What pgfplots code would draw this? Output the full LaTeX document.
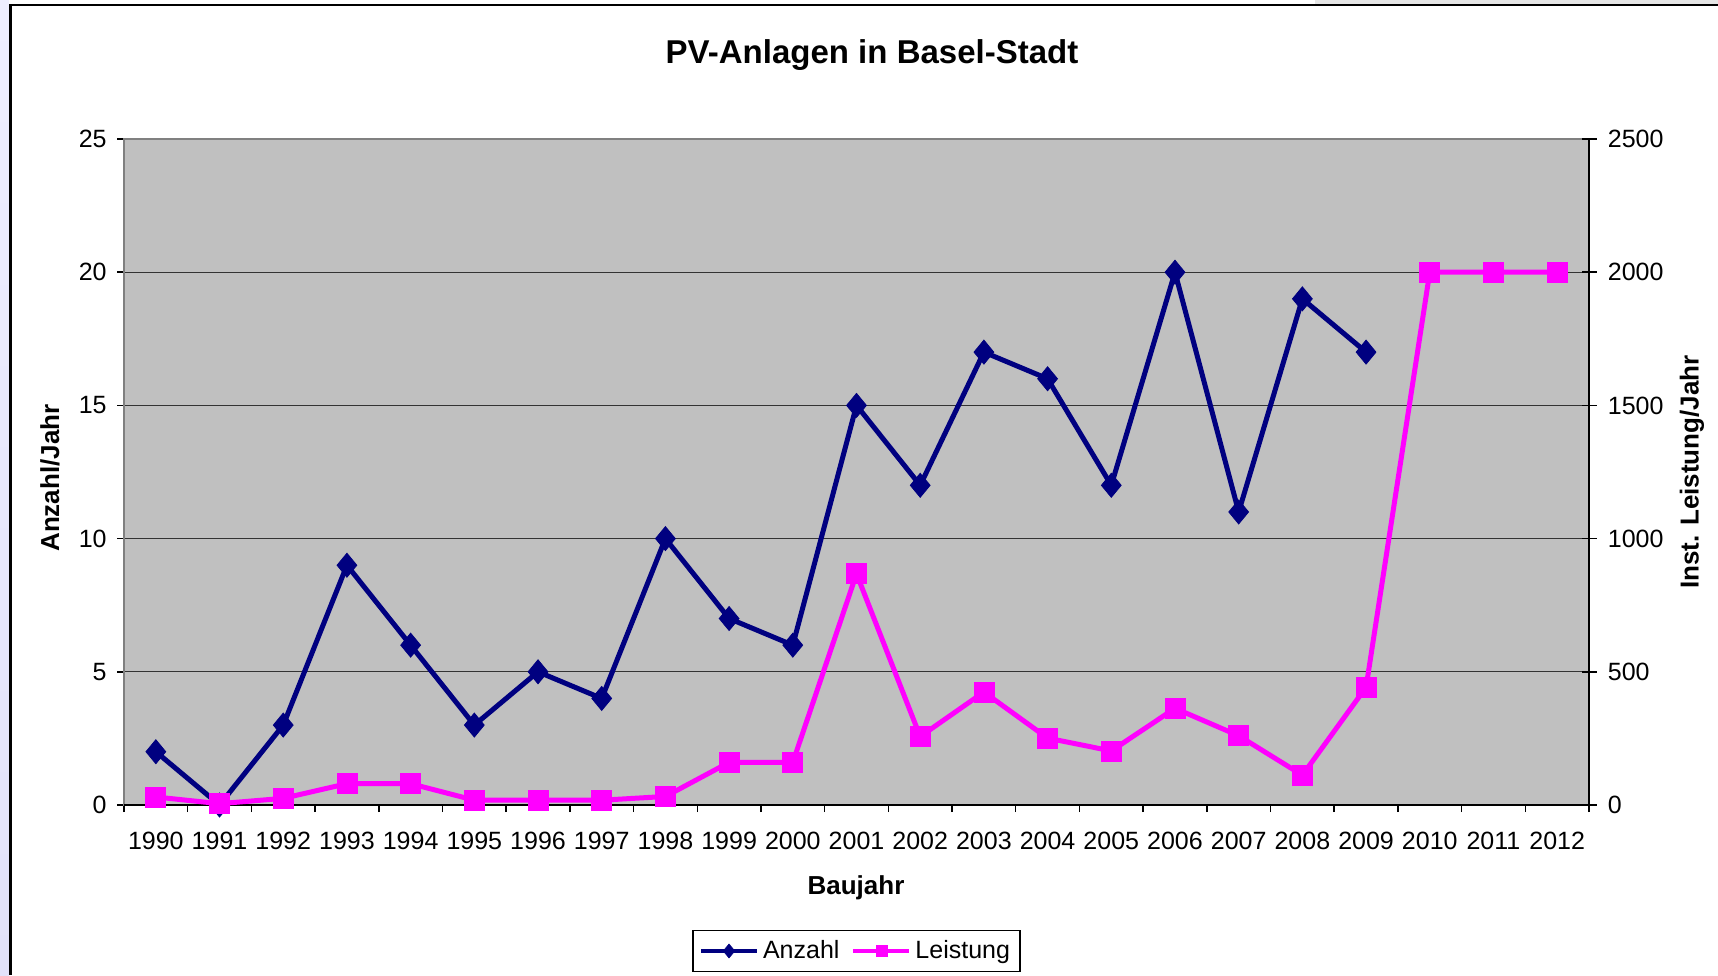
\documentclass[border=0pt]{standalone}
\usepackage{fontspec}
\setmainfont{Liberation Sans}
\usepackage{pgfplots}
\pgfplotsset{compat=1.18}
\definecolor{plotgray}{HTML}{C0C0C0}
\definecolor{navyblue}{HTML}{000080}
\definecolor{magentap}{HTML}{FF00FF}
\definecolor{framegray}{HTML}{808080}
\definecolor{stripA}{HTML}{EEEEFF}
\definecolor{stripB}{HTML}{CDCDF8}
\definecolor{stripC}{HTML}{E2E2FA}
\newcommand{\ticksize}{\fontsize{12.5}{15}\selectfont}
\newcommand{\labsize}{\fontsize{13}{15.6}\selectfont\bfseries}
\begin{document}
\begin{tikzpicture}
\begin{scope}[x=0.5pt,y=0.5pt]
\path[use as bounding box] (0,0) rectangle (1718,975);
\shade[top color=stripA, middle color=stripB, bottom color=stripC] (0,0) rectangle (9,975);
\fill[black!10] (1315,971) rectangle (1718,975);
\draw[black, line width=1.1pt] (10.5,0) -- (10.5,970) -- (1718,970);
\end{scope}

\begin{axis}[
  at={(62pt,85pt)}, anchor=south west, scale only axis,
  width=732.5pt, height=333pt,
  xmin=0, xmax=23, ymin=0, ymax=25,
  clip=false,
  axis background/.style={fill=plotgray},
  axis line style={draw=framegray, line width=0.75pt},
  xtick={0.5,1.5,...,22.5},
  xticklabels={1990,1991,1992,1993,1994,1995,1996,1997,1998,1999,2000,2001,2002,2003,2004,2005,2006,2007,2008,2009,2010,2011,2012},
  minor xtick={0,1,...,23},
  ytick={0,5,...,25},
  minor ytick={0,5,...,25},
  xtick pos=left, ytick pos=left,
  tick align=outside,
  major tick length=0pt,
  minor tick length=3.5pt,
  tick style={black, line width=0.75pt},
  ymajorgrids,
  major grid style={black!80, line width=0.6pt},
  /pgf/number format/assume math mode=true,
  ticklabel style={font=\ticksize},
  xticklabel style={anchor=north, inner sep=0pt, yshift=-13.5pt},
  yticklabel style={anchor=east, inner sep=0pt, xshift=-8.5pt},
]
\addplot[navyblue, line width=2.5pt, mark=diamond*, mark size=6pt, mark options={solid, line width=0.4pt, xscale=1.1}] coordinates {
(0.5,2) (1.5,0) (2.5,3) (3.5,9) (4.5,6) (5.5,3) (6.5,5) (7.5,4) (8.5,10) (9.5,7)
(10.5,6) (11.5,15) (12.5,12) (13.5,17) (14.5,16) (15.5,12) (16.5,20) (17.5,11) (18.5,19) (19.5,17)
};
\end{axis}

\begin{axis}[
  at={(62pt,85pt)}, anchor=south west, scale only axis,
  width=732.5pt, height=333pt,
  xmin=0, xmax=23, ymin=0, ymax=2500,
  clip=false,
  axis y line*=right, axis x line*=bottom,
  every outer x axis line/.append style={-},
  every outer y axis line/.append style={-},
  axis line style={black, line width=0.75pt, -},
  xtick=\empty,
  ytick={0,500,...,2500},
  scaled y ticks=false,
  /pgf/number format/1000 sep={},
  /pgf/number format/assume math mode=true,
  tick align=center,
  major tick length=7.5pt,
  tick style={black, line width=0.75pt},
  ticklabel style={font=\ticksize},
  yticklabel style={anchor=west, inner sep=0pt, xshift=5.5pt},
  legend columns=2,
  legend style={at={(0.5,-0.2192)}, anchor=center, draw=black, line width=0.6pt, fill=white, font=\ticksize, inner xsep=3pt, inner ysep=3pt, /tikz/every even column/.append style={column sep=4pt}, nodes={inner sep=2pt}},
  legend image code/.code={\draw[mark repeat=2,mark phase=2,#1] plot coordinates {(0pt,0pt) (14pt,0pt) (28pt,0pt)};},
]
\addlegendimage{navyblue, line width=2pt, mark=diamond*, mark size=3.5pt, mark options={solid, line width=0.3pt, xscale=1.1}}
\addlegendentry{Anzahl}
\addlegendimage{magentap, line width=2pt, mark=square*, mark size=2.8pt, mark options={solid, line width=0.3pt}}
\addlegendentry{Leistung}
\addplot[magentap, line width=2.5pt, mark=square*, mark size=5pt, mark options={solid, line width=0.4pt}, forget plot] coordinates {
(0.5,30) (1.5,5) (2.5,25) (3.5,80) (4.5,80) (5.5,18) (6.5,18) (7.5,18) (8.5,32) (9.5,160)
(10.5,160) (11.5,868) (12.5,257) (13.5,424) (14.5,251) (15.5,203) (16.5,363) (17.5,260) (18.5,112) (19.5,442)
(20.5,2000) (21.5,2000) (22.5,2000)
};
\end{axis}

\begin{scope}[x=0.5pt,y=0.5pt]
\node[font=\fontsize{16.5}{20}\selectfont\bfseries] at (872,920) {PV-Anlagen in Basel-Stadt};
\node[font=\labsize, rotate=90] at (50,497) {Anzahl/Jahr};
\node[font=\labsize, rotate=90] at (1692,503) {Inst. Leistung/Jahr};
\node[font=\labsize] at (856,87) {Baujahr};
\end{scope}
\end{tikzpicture}
\end{document}
